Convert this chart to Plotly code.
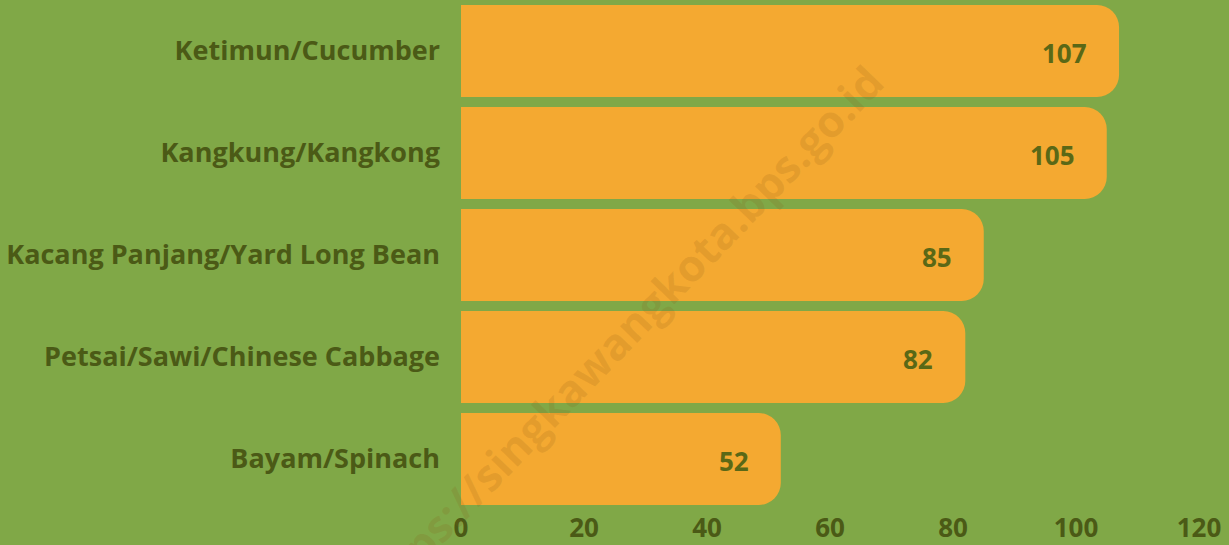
import plotly.graph_objects as go

categories = ["Ketimun/Cucumber", "Kangkung/Kangkong", "Kacang Panjang/Yard Long Bean",
              "Petsai/Sawi/Chinese Cabbage", "Bayam/Spinach"]
values = [107, 105, 85, 82, 52]
x_ticks = [0, 20, 40, 60, 80, 100, 120]
watermark = "https://singkawangkota.bps.go.id"

bg = "#80a847"
bar_color = "#f4a931"
text_color = "#4b5a16"
font = "Open Sans"

fig = go.Figure(go.Bar(
    x=values,
    y=categories,
    orientation="h",
    marker=dict(color=bar_color, line=dict(width=0), cornerradius=22),
    hoverinfo="x+y",
))

# value labels just inside the bar end
for c, v in zip(categories, values):
    fig.add_annotation(x=v, y=c, text=str(v), showarrow=False,
                       xanchor="right", xshift=-30, yshift=-2,
                       font=dict(family=font, size=26, color="#5a6816", weight="bold"))

# watermark
fig.add_annotation(xref="paper", yref="paper", x=0.213, y=0.338, text=watermark,
                   xanchor="center", yanchor="middle",
                   showarrow=False, textangle=-46,
                   font=dict(family=font, size=44, color="rgba(140,90,20,0.16)", weight="bold"))

fig.update_layout(
    width=1229, height=545,
    paper_bgcolor=bg, plot_bgcolor=bg,
    margin=dict(l=461, r=30, t=0, b=35),
    bargap=0.1,
    showlegend=False,
    font=dict(family=font, size=27, color=text_color),
)
fig.update_xaxes(range=[0, 120], tickvals=x_ticks, showgrid=False, zeroline=False,
                 showline=False, ticklabelstandoff=0,
                 tickfont=dict(family=font, size=26, color=text_color, weight="bold"))
fig.update_yaxes(autorange="reversed", showgrid=False, showline=False, zeroline=False,
                 ticklabelstandoff=20,
                 tickfont=dict(family=font, size=27, color=text_color, weight="bold"))

fig.write_html("out.html", config={"displayModeBar": False},
               post_script="document.body.style.margin='0';")
